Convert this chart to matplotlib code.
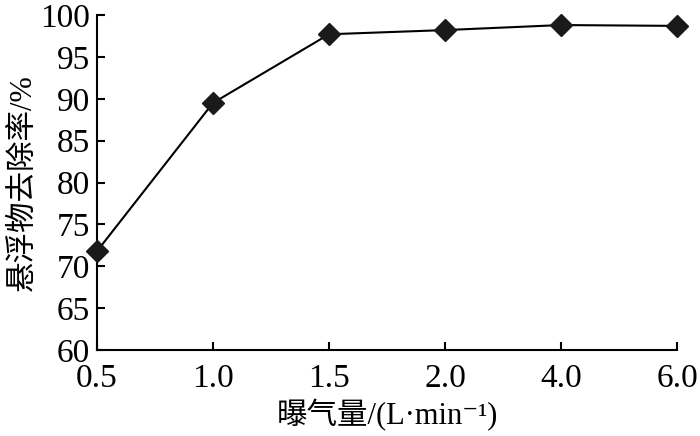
import matplotlib
matplotlib.use("Agg")
import matplotlib.pyplot as plt
import numpy as np

categories = ["0.5", "1.0", "1.5", "2.0", "4.0", "6.0"]
removal = [71.8, 89.5, 97.7, 98.2, 98.8, 98.7]
yticks = [60, 65, 70, 75, 80, 85, 90, 95, 100]

fam = ['Liberation Serif', 'Noto Sans CJK SC', 'DejaVu Sans']
plt.rcParams['font.family'] = fam

fig = plt.figure(figsize=(7, 4.36), dpi=100)
ax = fig.add_axes([97/700, 1-350/436, (677-97)/700, (350-15)/436])
x = np.arange(len(categories))
ax.plot(x, removal, color='black', lw=1.5, marker='D', markersize=11,
        markerfacecolor='#1a1a1a', markeredgecolor='#1a1a1a', clip_on=False, zorder=3)
ax.set_xlim(0, len(categories)-1)
ax.set_ylim(60, 100)
ax.set_xticks(x)
ax.set_xticklabels(categories)
ax.set_yticks(yticks)
for s in ['top', 'right']:
    ax.spines[s].set_visible(False)
for s in ['left', 'bottom']:
    ax.spines[s].set_linewidth(1.5)
ax.tick_params(direction='in', length=6, width=1.5, labelsize=24)
ax.tick_params(axis='x', pad=10)
ax.tick_params(axis='y', pad=5)
ax.set_xlabel("曝气量/(L·min⁻¹)", fontsize=22, labelpad=3)
ax.set_ylabel("悬浮物去除率/%", fontsize=22, labelpad=2)
fig.savefig("out.png", dpi=100)
